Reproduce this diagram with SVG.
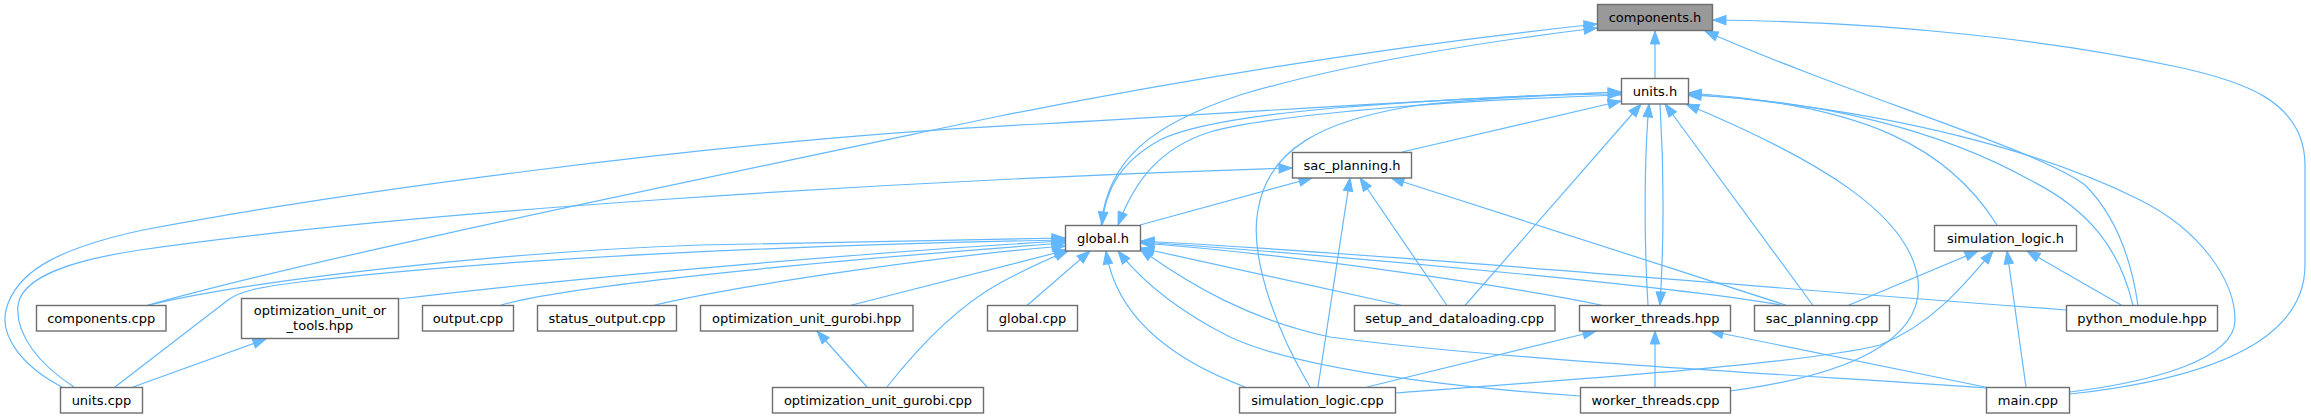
<svg xmlns="http://www.w3.org/2000/svg" width="2311" height="417" viewBox="0 0 2311 417">
<defs>
<style>
.n rect{fill:#ffffff;stroke:#6e6e6e;stroke-width:1.4}
.n.root rect{fill:#999999}
.n text{font-family:"DejaVu Sans","Liberation Sans",sans-serif;font-size:13px;text-anchor:middle;fill:#000000}
.e path{fill:none;stroke:#63b8ff;stroke-width:1.2;marker-end:url(#ah)}
</style>
<marker id="ah" markerUnits="userSpaceOnUse" markerWidth="14" markerHeight="11" refX="13" refY="5" orient="auto" overflow="visible">
<path d="M0,0.3 L13,5 L0,9.7 z" fill="#63b8ff" stroke="#63b8ff" stroke-width="1"/>
</marker>
</defs>
<rect width="2311" height="417" fill="#ffffff"/>
<g id="edges" class="e">
<path d="M1655,78.5 L1655,31"/>
<path d="M1101,225 C1108,160 1150,125 1240,95 C1340,65 1480,42 1597,28"/>
<path d="M147,305.5 C300,262 600,200 1000,116 C1250,66 1450,40 1597,24"/>
<path d="M2138,305.5 C2130,250 2110,210 2085,185 C2040,150 1850,95 1705,31"/>
<path d="M2070,394 C2170,383 2305,355 2305,265 L2305,165 C2305,100 2240,80 2173,66 C2060,42 1900,22 1713,20"/>
<path d="M1621,92 C1420,100 1220,110 1160,140 C1120,162 1105,190 1102,225"/>
<path d="M1621,95 C1450,100 1270,115 1210,132 C1160,148 1135,180 1118,225"/>
<path d="M62,387 C20,365 0,335 6,310 C15,275 50,250 143,230 C300,200 700,140 1040,124 C1250,112 1450,98 1621,92"/>
<path d="M74,387 C40,365 15,335 18,305 C22,280 60,262 140,250 C400,212 900,180 1292,168"/>
<path d="M133,387 L266,339"/>
<path d="M115,387 L228,300 C240,291 260,287 300,282 C500,258 800,245 1065,240"/>
<path d="M147,305.5 C250,280 500,252 700,245 C850,241 1000,240 1065,238"/>
<path d="M398,299 C600,275 900,250 1065,241"/>
<path d="M500,305.5 C540,293 700,270 1065,243"/>
<path d="M653,305.5 C750,283 950,255 1065,246"/>
<path d="M850,305.5 L1067,250"/>
<path d="M887,387 C920,345 960,305 1000,283 C1030,267 1050,258 1068,251"/>
<path d="M867,387 L817,331"/>
<path d="M1027,305.5 L1090,251"/>
<path d="M1245,387 C1160,355 1115,310 1106,251"/>
<path d="M1580,396 C1420,385 1290,365 1230,337 C1180,312 1145,285 1118,251"/>
<path d="M1987,388 C1800,375 1500,360 1330,337 C1250,320 1190,285 1140,249"/>
<path d="M1402,305.5 L1141,248"/>
<path d="M1603,305.5 C1520,288 1300,255 1141,243"/>
<path d="M1783,305.5 C1700,290 1400,260 1141,242"/>
<path d="M2066,310 C1700,283 1400,255 1141,241"/>
<path d="M1140,225 L1312,178"/>
<path d="M1787,305.5 L1391,178"/>
<path d="M1447,305.5 L1360,178"/>
<path d="M1318,387 L1350,178"/>
<path d="M1402,152 L1621,101"/>
<path d="M1465,305.5 L1641,104"/>
<path d="M1310,387 C1270,320 1250,250 1258,210 C1268,150 1320,120 1420,105 C1500,97 1570,94 1621,94"/>
<path d="M1648,305.5 C1644,240 1644,160 1649,104"/>
<path d="M1660,104 C1664,170 1664,240 1660,305"/>
<path d="M1813,305.5 L1665,104"/>
<path d="M1730,391 C1850,375 1925,340 1918,280 C1910,215 1820,160 1686,104"/>
<path d="M1997,225 C1950,150 1870,105 1688,93"/>
<path d="M2133,305.5 C2120,250 2090,210 2030,180 C1940,130 1820,100 1688,95"/>
<path d="M2070,392 C2150,382 2235,360 2235,320 C2235,280 2200,230 2140,200 C2050,155 1900,110 1688,94"/>
<path d="M1655,387 L1655,331"/>
<path d="M1990,388 L1710,331"/>
<path d="M1367,387 L1596,331"/>
<path d="M1848,305.5 L1978,251"/>
<path d="M2122,305.5 L2027,251"/>
<path d="M2026,387 L2007,251"/>
<path d="M1395,393 C1550,381 1800,365 1880,345 C1930,325 1960,290 1993,251"/>
</g>
<g id="components_h" class="n root"><rect x="1597.5" y="4.5" width="115" height="26"/><text x="1655" y="22">components.h</text></g>
<g id="units_h" class="n"><rect x="1621.5" y="78.5" width="67" height="25.5"/><text x="1655" y="96">units.h</text></g>
<g id="sac_planning_h" class="n"><rect x="1292.5" y="152.5" width="119" height="25.5"/><text x="1352" y="170">sac_planning.h</text></g>
<g id="global_h" class="n"><rect x="1065.5" y="225.5" width="75" height="25.5"/><text x="1103" y="243">global.h</text></g>
<g id="simulation_logic_h" class="n"><rect x="1934.5" y="225.5" width="142" height="25.5"/><text x="2005.5" y="243">simulation_logic.h</text></g>
<g id="components_cpp" class="n"><rect x="36.5" y="305.5" width="129.5" height="25.5"/><text x="101.2" y="323">components.cpp</text></g>
<g id="optimization_unit_or_tools_hpp" class="n"><rect x="241.5" y="298.5" width="157" height="40"/><text x="320" y="315">optimization_unit_or</text><text x="320" y="330">_tools.hpp</text></g>
<g id="output_cpp" class="n"><rect x="422.5" y="305.5" width="91" height="25.5"/><text x="468" y="323">output.cpp</text></g>
<g id="status_output_cpp" class="n"><rect x="537.5" y="305.5" width="139" height="25.5"/><text x="607" y="323">status_output.cpp</text></g>
<g id="optimization_unit_gurobi_hpp" class="n"><rect x="700.5" y="305.5" width="212.5" height="25.5"/><text x="806.7" y="323">optimization_unit_gurobi.hpp</text></g>
<g id="global_cpp" class="n"><rect x="987.5" y="305.5" width="90" height="25.5"/><text x="1032.5" y="323">global.cpp</text></g>
<g id="setup_and_dataloading_cpp" class="n"><rect x="1354.5" y="305.5" width="200.5" height="25.5"/><text x="1454.7" y="323">setup_and_dataloading.cpp</text></g>
<g id="worker_threads_hpp" class="n"><rect x="1579.5" y="305.5" width="151" height="25.5"/><text x="1655" y="323">worker_threads.hpp</text></g>
<g id="sac_planning_cpp" class="n"><rect x="1754.5" y="305.5" width="135" height="25.5"/><text x="1822" y="323">sac_planning.cpp</text></g>
<g id="python_module_hpp" class="n"><rect x="2066.5" y="305.5" width="151" height="25.5"/><text x="2142" y="323">python_module.hpp</text></g>
<g id="units_cpp" class="n"><rect x="60.5" y="387.5" width="82" height="25.5"/><text x="101.5" y="405">units.cpp</text></g>
<g id="optimization_unit_gurobi_cpp" class="n"><rect x="772.5" y="387.5" width="211" height="25.5"/><text x="878" y="405">optimization_unit_gurobi.cpp</text></g>
<g id="simulation_logic_cpp" class="n"><rect x="1239.5" y="387.5" width="156" height="25.5"/><text x="1317.5" y="405">simulation_logic.cpp</text></g>
<g id="worker_threads_cpp" class="n"><rect x="1580.5" y="387.5" width="150" height="25.5"/><text x="1655.5" y="405">worker_threads.cpp</text></g>
<g id="main_cpp" class="n"><rect x="1986.5" y="387.5" width="83" height="25.5"/><text x="2028" y="405">main.cpp</text></g>
</svg>
